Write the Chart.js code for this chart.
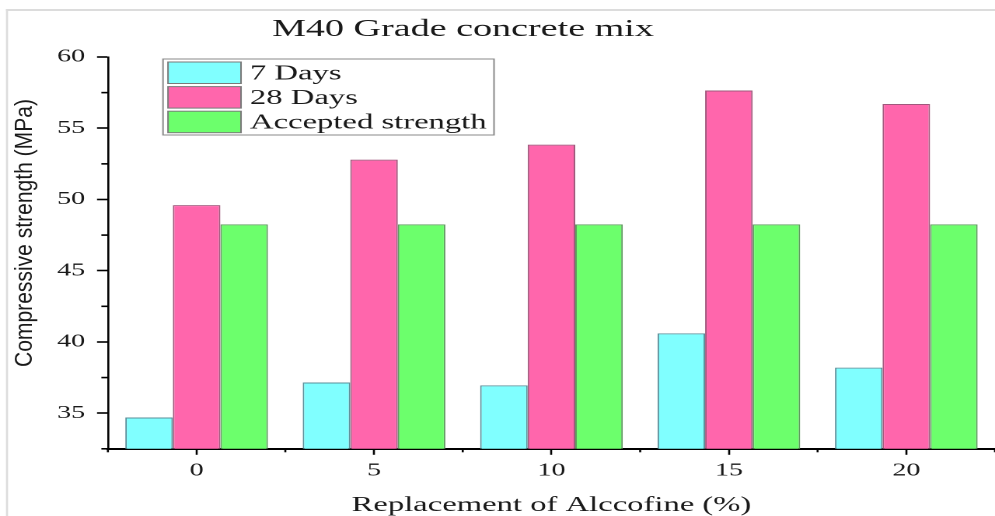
<!DOCTYPE html>
<html><head><meta charset="utf-8">
<script src="https://cdn.jsdelivr.net/npm/chart.js@4"></script>
<style>
html,body{margin:0;padding:0;background:#fff;overflow:hidden}
#c{display:block}
</style></head>
<body>
<canvas id="c" width="640" height="516" style="width:995px;height:516px"></canvas>
<script>
// ---- data ----
const categories = ['0', '5', '10', '15', '20'];
const sevenDays = [34.7, 37.15, 36.95, 40.6, 38.2];
const twentyEightDays = [49.6, 52.8, 53.85, 57.65, 56.7];
const acceptedStrength = [48.25, 48.25, 48.25, 48.25, 48.25];
const seriesLabels = ['7 Days', '28 Days', 'Accepted strength'];
const yMajorTicks = [35, 40, 45, 50, 55, 60];
const yMinorTicks = [32.5, 37.5, 42.5, 47.5, 52.5, 57.5];
const titleText = 'M40 Grade concrete mix';
const xTitleText = 'Replacement of Alccofine (%)';
const yTitleText = 'Compressive strength (MPa)';

// ---- styling ----
const S = 995 / 640; // horizontal stretch of the canvas on screen
const fillColors = ['#80FFFF', '#FF66AC', '#6CFF6C'];
const edgeColors = ['#5a8f9a', '#a0587c', '#5f9a5f'];
const serif = '"Liberation Serif", "Times New Roman", serif';
const ink = '#1a1a1a';

const decorPlugin = {
  id: 'decor',
  beforeDraw(chart) {
    const ctx = chart.ctx;
    ctx.save();
    ctx.fillStyle = '#ffffff';
    ctx.fillRect(0, 0, chart.width, chart.height);
    ctx.fillStyle = '#dcdcdc';
    ctx.fillRect(6 / S, 9, chart.width, 2);
    ctx.fillRect(6 / S, 9, 2 / S, chart.height);
    ctx.restore();
  },
  afterDraw(chart) {
    const ctx = chart.ctx;
    const xs = chart.scales.x, ys = chart.scales.y;
    const area = chart.chartArea;
    ctx.save();
    // minor ticks
    ctx.strokeStyle = '#000';
    ctx.lineWidth = 1.6;
    yMinorTicks.forEach(v => {
      const py = ys.getPixelForValue(v);
      ctx.beginPath(); ctx.moveTo(area.left - 4.2, py); ctx.lineTo(area.left, py); ctx.stroke();
    });
    ctx.lineWidth = 1.3;
    for (let i = 0; i <= categories.length; i++) {
      const px = xs.getPixelForValue(i - 0.5);
      ctx.beginPath(); ctx.moveTo(px, area.bottom); ctx.lineTo(px, area.bottom + 3.5); ctx.stroke();
    }
    // title
    ctx.fillStyle = ink;
    ctx.font = '24.5px ' + serif;
    ctx.textAlign = 'center';
    ctx.textBaseline = 'alphabetic';
    ctx.fillText(titleText, 463 / S, 36);
    // y title (condensed)
    ctx.save();
    ctx.translate(25 / S, 233);
    ctx.rotate(-Math.PI / 2);
    ctx.scale(1, 1 / S);
    ctx.font = '25px "Liberation Sans", Arial, sans-serif';
    ctx.textAlign = 'center';
    ctx.textBaseline = 'middle';
    ctx.fillText(yTitleText, 0, 0, 268);
    ctx.restore();
    // legend
    const bx = 163 / S, bw = (494 - 163) / S, by = 59, bh = 76;
    ctx.fillStyle = '#ffffff';
    ctx.fillRect(bx, by, bw, bh);
    ctx.strokeStyle = '#8a8a8a';
    ctx.lineWidth = 1;
    ctx.strokeRect(bx, by, bw, bh);
    chart.data.datasets.forEach((ds, i) => {
      const ry = 62 + i * 24.6;
      ctx.fillStyle = ds.backgroundColor;
      ctx.fillRect(168 / S, ry, (241 - 168) / S, 21.5);
      ctx.strokeStyle = '#7a7a7a';
      ctx.lineWidth = 1;
      ctx.strokeRect(168 / S, ry, (241 - 168) / S, 21.5);
      ctx.fillStyle = ink;
      ctx.font = '21px ' + serif;
      ctx.textAlign = 'left';
      ctx.textBaseline = 'middle';
      ctx.fillText(ds.label, 250 / S, ry + 12);
    });
    ctx.restore();
  }
};

const datasets = [sevenDays, twentyEightDays, acceptedStrength].map((vals, i) => ({
  label: seriesLabels[i],
  data: vals,
  backgroundColor: fillColors[i],
  borderColor: edgeColors[i],
  borderWidth: 1,
  categoryPercentage: 0.804,
  barPercentage: 1.0
}));

new Chart(document.getElementById('c'), {
  type: 'bar',
  data: { labels: categories, datasets },
  options: {
    responsive: false,
    animation: false,
    devicePixelRatio: 2,
    layout: { padding: { left: 29, right: 0, top: 57, bottom: 0 } },
    plugins: { legend: { display: false }, title: { display: false }, tooltip: { enabled: false } },
    scales: {
      x: {
        type: 'category',
        offset: true,
        grid: { offset: false, drawOnChartArea: false, drawTicks: true, tickLength: 6, tickWidth: 1.3, tickColor: '#000' },
        border: { display: true, color: '#000', width: 2 },
        ticks: { color: ink, font: { family: serif, size: 18 }, padding: 5, maxRotation: 0 },
        title: { display: true, text: xTitleText, color: ink, font: { family: serif, size: 21, lineHeight: 1.0 }, padding: { top: 8.6, bottom: 0 } }
      },
      y: {
        min: 32.5,
        max: 60,
        afterBuildTicks: (axis) => { axis.ticks = yMajorTicks.map(v => ({ value: v })); },
        grid: { drawOnChartArea: false, drawTicks: true, tickLength: 7, tickWidth: 1.6, tickColor: '#000' },
        border: { display: true, color: '#000', width: 1.3 },
        ticks: { color: ink, font: { family: serif, size: 18 }, padding: 7.7 },
        title: { display: false }
      }
    }
  },
  plugins: [decorPlugin]
});
</script>
</body></html>
